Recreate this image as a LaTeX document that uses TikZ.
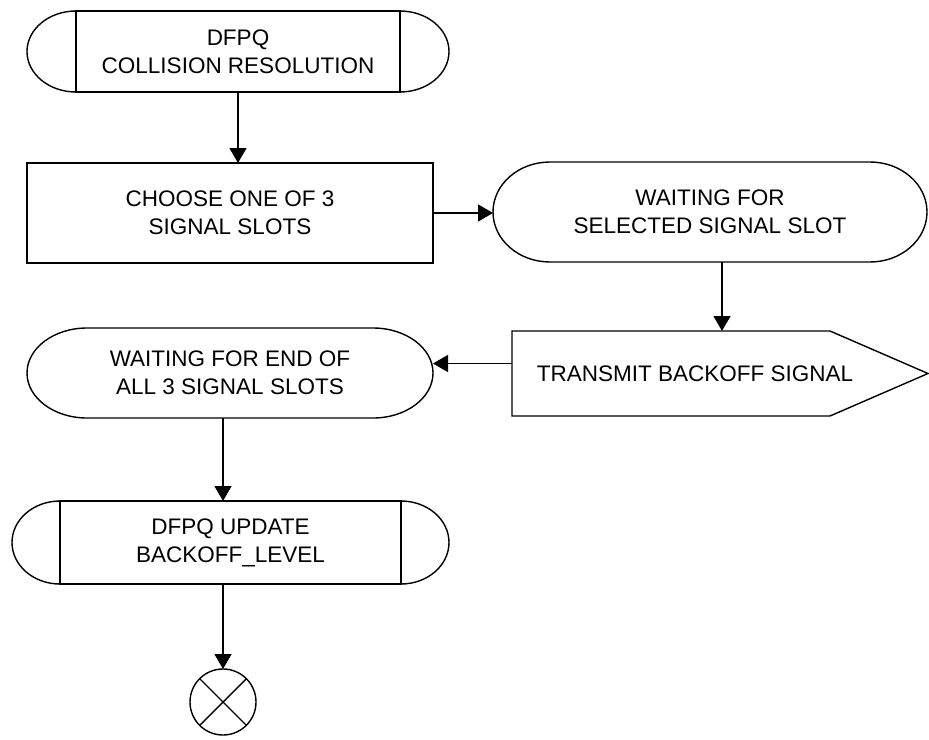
\documentclass[tikz,border=0pt]{standalone}
\usepackage{fontspec}
\setmainfont{Liberation Sans}
\usetikzlibrary{arrows.meta,positioning,calc}
\tikzset{
  txt/.style   = {align=center, font=\fontsize{22.5}{28}\selectfont, inner sep=0pt, outer sep=0pt},
  sh/.style    = {line width=1.4pt},
  proc/.style  = {txt, rectangle, draw, sh},
  task/.style  = {txt, rectangle, draw, sh},
  state/.style = {txt, rectangle},
  sig/.style   = {txt, rectangle},
  stopc/.style = {circle, draw, sh, minimum size=66pt, inner sep=0pt, outer sep=0pt},
  fl/.style    = {-{Triangle[length=15pt,width=17pt]}, line width=1.4pt},
}
\newcommand{\procends}[3]{%
  \draw[sh] (#1.north west) arc[start angle=90,end angle=270,x radius=#2,y radius=#3];
  \draw[sh] (#1.north east) arc[start angle=90,end angle=-90,x radius=#2,y radius=#3];}
\newcommand{\stateborder}[3]{%
  \draw[sh] ([xshift=#2]#1.north west) -- ([xshift=-#2]#1.north east)
    arc[start angle=90,end angle=-90,x radius=#2,y radius=#3]
    -- ([xshift=#2]#1.south west)
    arc[start angle=270,end angle=90,x radius=#2,y radius=#3] -- cycle;}

\begin{document}
\begin{tikzpicture}[x=1pt,y=1pt]
  \useasboundingbox (0,0) rectangle (929,-739);
  \node[proc, minimum width=324pt, minimum height=81pt] (start) at (238,-51.5) {DFPQ\\COLLISION RESOLUTION};
  \node[task, minimum width=406pt, minimum height=100pt] (choose) at (230,-213) {CHOOSE ONE OF 3\\SIGNAL SLOTS};
  \node[state, minimum width=434pt, minimum height=100pt] (waitsel) at (710,-212) {WAITING FOR\\SELECTED SIGNAL SLOT};
  \node[sig, minimum width=366pt, minimum height=85pt] (transmit) at (695,-373.5) {TRANSMIT BACKOFF SIGNAL};
  \node[state, minimum width=406pt, minimum height=90pt] (waitend) at (230,-373) {WAITING FOR END OF\\ALL 3 SIGNAL SLOTS};
  \node[proc, minimum width=341pt, minimum height=83pt] (update) at (230.5,-542.5) {DFPQ UPDATE\\BACKOFF\_LEVEL};
  \node[stopc] (stop) at (223,-702) {};

  \procends{start}{49pt}{40.5pt}
  \procends{update}{48pt}{41.5pt}
  \stateborder{waitsel}{57pt}{50pt}
  \stateborder{waitend}{60pt}{45pt}
  \draw[sh] (transmit.north west) -- ([xshift=-48pt]transmit.north east) -- ([xshift=50pt]transmit.east)
    -- ([xshift=-48pt]transmit.south east) -- (transmit.south west) -- cycle;
  \draw[sh] (stop.north west) -- (stop.south east) (stop.north east) -- (stop.south west);

  \draw[fl] (start) -- (start |- choose.north);
  \draw[fl] (choose.east) -- (choose.east -| waitsel.west);
  \draw[fl] ([xshift=12pt]waitsel.south) -- ([xshift=12pt]waitsel.south |- transmit.north);
  \draw[fl] ([yshift=10pt]transmit.west) -- ([yshift=10pt]transmit.west -| waitend.east);
  \draw[fl] ([xshift=-7pt]waitend.south) -- ([xshift=-7pt]waitend.south |- update.north);
  \draw[fl] ([xshift=-7.5pt]update.south) -- (stop);
\end{tikzpicture}
\end{document}
